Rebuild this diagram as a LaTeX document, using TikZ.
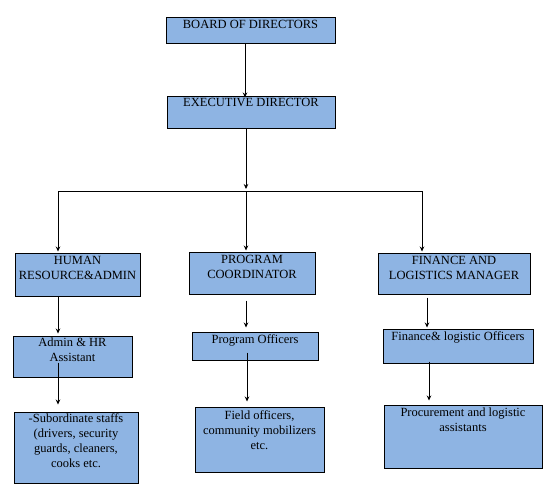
\documentclass[tikz,border=0pt]{standalone}
\usepackage{fontspec}
\setmainfont{Liberation Serif}
\usepackage{xcolor}
\usepackage{tikz}
\usetikzlibrary{positioning,calc,arrows.meta}
\definecolor{boxblue}{RGB}{142, 180, 227}

\begin{document}
\begin{tikzpicture}[
  x=1pt, y=-1pt,
  box/.style={rectangle, draw=black, line width=1pt, fill=boxblue, inner sep=0pt},
  txt/.style={inner sep=0pt, align=center, font=\fontsize{12.5}{15}\selectfont},
  arrow/.style={-{Stealth[length=5pt,width=4.5pt]}, line width=0.7pt}
]
  \useasboundingbox (0,0) rectangle (553,491);

  % top level
  \node[box, minimum width=169pt, minimum height=26pt] (board) at (250.5,30) {};
  \node[txt, below=3.5pt of board.north] (boardtxt) {BOARD OF DIRECTORS};
  \node[box, minimum width=168pt, minimum height=32pt] (exec) at (251,112) {};
  \node[txt, below=3pt of exec.north] (exectxt) {EXECUTIVE DIRECTOR};

  % managers
  \node[box, minimum width=125pt, minimum height=43pt] (hr) at (77.5,274.5) {};
  \node[txt, below=3.5pt of hr.north] (hrtxt) {HUMAN\\RESOURCE\&ADMIN};
  \node[box, minimum width=126pt, minimum height=42pt] (pc) at (252,273) {};
  \node[txt, below=3.5pt of pc.north] (pctxt) {PROGRAM\\COORDINATOR};
  \node[box, minimum width=152pt, minimum height=41pt] (fl) at (454,273.5) {};
  \node[txt, below=3.5pt of fl.north] (fltxt) {FINANCE AND\\LOGISTICS MANAGER};

  % officers
  \node[box, minimum width=119pt, minimum height=41pt] (admin) at (72.5,356.5) {};
  \node[txt, below=2pt of admin.north] (admintxt) {Admin \& HR\\Assistant};
  \node[box, minimum width=126pt, minimum height=28pt] (po) at (255,346) {};
  \node[txt, below=2.5pt of po.north] (potxt) {Program Officers};
  \node[box, minimum width=150pt, minimum height=34pt] (fo) at (458,346) {};
  \node[txt, below=2.5pt of fo.north] (fotxt) {Finance\& logistic Officers};

  % staff
  \node[box, minimum width=124pt, minimum height=71pt] (sub) at (76,447.5) {};
  \node[txt, below=2pt of sub.north] (subtxt) {-Subordinate staffs\\(drivers, security\\guards, cleaners,\\cooks etc.};
  \node[box, minimum width=129pt, minimum height=65pt] (field) at (259.5,439.5) {};
  \node[txt, below=4pt of field.north] (fieldtxt) {Field officers,\\community mobilizers\\etc.};
  \node[box, minimum width=158pt, minimum height=63pt] (proc) at (463,436.5) {};
  \node[txt, below=3pt of proc.north] (proctxt) {Procurement and logistic\\assistants};

  % columns of the connectors
  \coordinate (colb) at (245,0);
  \coordinate (split) at (246,191);
  \coordinate (lft) at (58,191);
  \coordinate (rgt) at (422,191);
  \coordinate (colp) at (247,0);
  \coordinate (colf) at (427,0);
  \coordinate (colg) at (429,0);

  \draw[arrow] (colb |- board.south) -- ($(colb |- exec.north)+(0,2)$);
  \draw[arrow] (split |- exec.south) -- ($(split)+(0,-2)$);
  \draw[line width=0.7pt] (lft) -- (rgt);
  \draw[arrow] (lft) -- ($(lft |- hr.north)+(0,-1)$);
  \draw[arrow] (split) -- ($(split |- pc.north)+(0,-1)$);
  \draw[arrow] (rgt) -- ($(rgt |- fl.north)+(0,-1)$);

  \draw[arrow] (lft |- hr.south) -- ($(lft |- admin.north)+(0,-2)$);
  \draw[arrow] ($(split |- pc.south)+(0,6)$) -- ($(split |- po.north)+(0,-4)$);
  \draw[arrow] ($(colf |- fl.south)+(0,3)$) -- ($(colf |- fo.north)+(0,-1)$);

  \draw[arrow] ($(lft |- admin.south)+(0,-15)$) -- ($(lft |- sub.north)+(0,-7)$);
  \draw[arrow] ($(colp |- po.south)+(0,-8)$) -- ($(colp |- field.north)+(0,-5)$);
  \draw[arrow] ($(colg |- fo.south)+(0,-2)$) -- ($(colg |- proc.north)+(0,-4)$);
\end{tikzpicture}
\end{document}
